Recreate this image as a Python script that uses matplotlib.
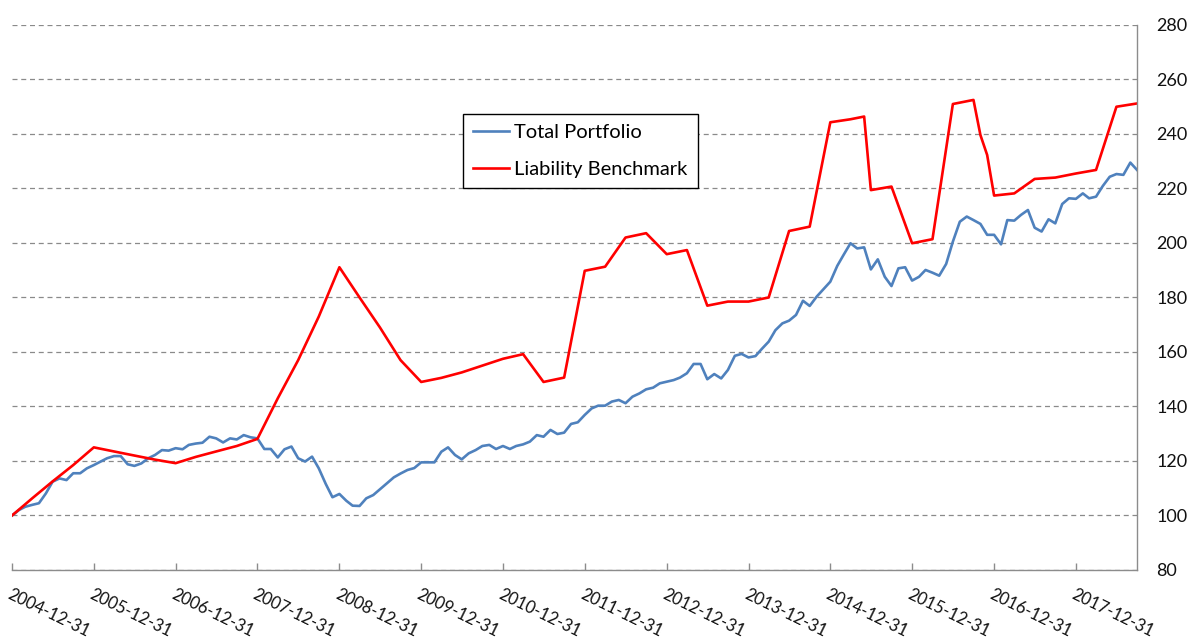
import numpy as np
import pandas as pd
import matplotlib
matplotlib.use('Agg')
import matplotlib.pyplot as plt

plt.rcParams['font.family'] = ['Lato', 'DejaVu Sans']

# monthly index, 2004-12-31 .. 2018-09-30
dates = pd.date_range('2004-12-31', periods=166, freq='ME')

portfolio = [100, 102, 103.2, 103.9, 104.5, 108.1, 112.4, 113.6, 113, 115.5,
             115.5, 117.3, 118.5, 119.8, 121, 121.8, 121.8, 118.8, 118.2, 119.1,
             121, 122.2, 124, 123.8, 124.7, 124.3, 125.9, 126.4, 126.7, 128.9,
             128.3, 126.8, 128.3, 127.9, 129.5, 128.7, 128.3, 124.4, 124.4, 121.3,
             124.3, 125.3, 121, 119.8, 121.6, 117.3, 111.6, 106.7, 107.9, 105.4,
             103.6, 103.5, 106.3, 107.5, 109.6, 111.8, 114.0, 115.4, 116.7, 117.4,
             119.5, 119.5, 119.5, 123.4, 125, 122.2, 120.6, 122.8, 124, 125.5,
             125.9, 124.4, 125.5, 124.4, 125.5, 126.1, 127.1, 129.5, 128.9, 131.4,
             129.9, 130.4, 133.6, 134.2, 136.9, 139.3, 140.3, 140.3, 141.8, 142.4,
             141.2, 143.6, 144.8, 146.3, 146.9, 148.5, 149.1, 149.7, 150.6, 152.2,
             155.6, 155.6, 150, 151.9, 150.3, 153.4, 158.6, 159.3, 158, 158.5,
             161.1, 163.8, 168, 170.5, 171.5, 173.6, 178.8, 176.9, 180.3, 183,
             185.8, 191.6, 195.6, 199.9, 198, 198.4, 190.3, 194, 187.6, 184.2,
             190.7, 191.1, 186.2, 187.6, 190.1, 189.1, 188, 192.3, 200.5, 207.8,
             209.7, 208.4, 207, 203, 203, 199.5, 208.4, 208.2, 210.3, 212.1,
             205.6, 204.2, 208.7, 207.2, 214.3, 216.4, 216.2, 218.2, 216.4, 217,
             220.9, 224.3, 225.3, 225, 229.5, 226.8]

# liability benchmark, read at its turning points (month index)
bench_idx = [0, 3, 6, 9, 12, 15, 18, 21, 24, 27, 30, 33, 36, 39, 42, 45, 48,
             51, 54, 57, 60, 63, 66, 69, 72, 75, 78, 81, 84, 87, 90, 93, 96,
             99, 102, 105, 108, 111, 114, 117, 120, 123, 125, 126, 129, 132,
             135, 138, 141, 142, 143, 144, 147, 150, 153, 156, 159, 162, 165]
bench = [100, 106.3, 112.5, 118.5, 125, 123.5, 122, 120.5, 119.2, 121.5, 123.5,
         125.5, 128.1, 143, 157, 173, 191.1, 180, 169, 157, 149, 150.5, 152.5,
         155, 157.5, 159.2, 149, 150.6, 189.8, 191.3, 202, 203.6, 195.9, 197.4,
         177, 178.5, 178.5, 180, 204.4, 206, 244.3, 245.4, 246.4, 219.4, 220.7,
         199.9, 201.4, 251, 252.5, 239.6, 232.3, 217.4, 218.2, 223.5, 224,
         225.5, 226.8, 250, 251.2]

fig = plt.figure(figsize=(11.92, 6.39), dpi=100)
ax = fig.add_axes([0.0101, 0.108, 0.9438, 0.8529])

ax.plot(dates, portfolio, color='#4F81BD', lw=1.9, label='Total Portfolio')
ax.plot(dates[bench_idx], bench, color='#FF0000', lw=1.9, label='Liability Benchmark')

ax.set_xlim(dates[0], dates[-1])
ax.set_ylim(80, 280)
ax.set_yticks(np.arange(80, 281, 20))
ax.yaxis.tick_right()
ax.tick_params(axis='y', length=0, pad=14, labelsize=13, labelcolor='#111111')

ticks = dates[::12]
ax.set_xticks(ticks)
ax.set_xticklabels([d.strftime('%Y-%m-%d') for d in ticks], rotation=-26,
                   ha='left', va='top', rotation_mode='anchor')
ax.tick_params(axis='x', direction='in', length=5, width=1, color='#8c8c8c',
               pad=12, labelsize=12, labelcolor='#111111')

ax.yaxis.grid(True, color='#8a8a8a', lw=0.9, linestyle=(0, (4, 3)))
ax.set_axisbelow(True)

for s in ['left', 'top']:
    ax.spines[s].set_visible(False)
for s in ['bottom', 'right']:
    ax.spines[s].set_color('#8c8c8c')
    ax.spines[s].set_linewidth(1)

leg = ax.legend(loc='upper left', bbox_to_anchor=(463/1192, 1-114/639),
                bbox_transform=fig.transFigure, borderaxespad=0, fontsize=14.5,
                fancybox=False, handlelength=1.8, handletextpad=0.25,
                borderpad=0.5, labelspacing=1.0, framealpha=1)
leg.get_frame().set_edgecolor('black')
leg.get_frame().set_linewidth(1)

plt.savefig('out.png', dpi=100)
